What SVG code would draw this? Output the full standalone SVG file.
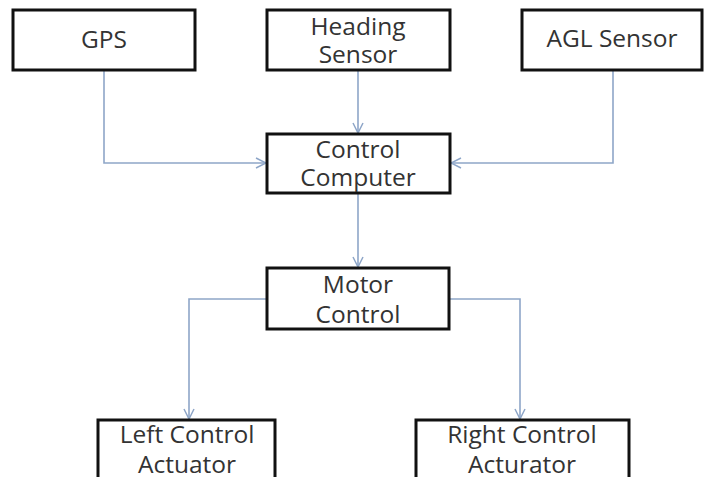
<svg xmlns="http://www.w3.org/2000/svg" width="704" height="477" viewBox="0 0 704 477">
<style>
.box{fill:#ffffff;stroke:#111111;stroke-width:3}
.t{font-family:"Open Sans","Liberation Sans",sans-serif;font-size:24.5px;fill:#333333;text-anchor:middle}
.c{fill:none;stroke:#8ea6c8;stroke-width:1.6}
</style>
<defs>
<marker id="arr" viewBox="0 0 12 12" refX="11" refY="6" markerWidth="12" markerHeight="12" markerUnits="userSpaceOnUse" orient="auto">
<path d="M1,1 L11,6 L1,11" fill="none" stroke="#8ea6c8" stroke-width="1.5"/>
</marker>
</defs>
<rect width="704" height="477" fill="#ffffff"/>
<g id="connectors">
<path class="c" d="M104,70 V163 H266" marker-end="url(#arr)"/>
<path class="c" d="M358,70 V133" marker-end="url(#arr)"/>
<path class="c" d="M613,70 V163 H451" marker-end="url(#arr)"/>
<path class="c" d="M358,193 V267" marker-end="url(#arr)"/>
<path class="c" d="M267,299 H189 V419" marker-end="url(#arr)"/>
<path class="c" d="M449,299 H520 V419" marker-end="url(#arr)"/>
</g>
<g id="gps">
<rect class="box" x="13" y="10" width="182" height="60"/>
<text class="t" x="104" y="48">GPS</text>
</g>
<g id="heading">
<rect class="box" x="267" y="10" width="183" height="60"/>
<text class="t" x="358" y="35">Heading</text>
<text class="t" x="358" y="63">Sensor</text>
</g>
<g id="agl">
<rect class="box" x="522" y="10" width="180" height="60"/>
<text class="t" x="612" y="47">AGL Sensor</text>
</g>
<g id="control-computer">
<rect class="box" x="267" y="134" width="183" height="59"/>
<text class="t" x="358" y="158">Control</text>
<text class="t" x="358" y="186">Computer</text>
</g>
<g id="motor-control">
<rect class="box" x="267" y="268" width="182" height="61"/>
<text class="t" x="358" y="293">Motor</text>
<text class="t" x="358" y="323">Control</text>
</g>
<g id="left-actuator">
<rect class="box" x="98" y="420" width="177" height="70"/>
<text class="t" x="187" y="443">Left Control</text>
<text class="t" x="187" y="473">Actuator</text>
</g>
<g id="right-actuator">
<rect class="box" x="416" y="420" width="213" height="70"/>
<text class="t" x="522" y="443">Right Control</text>
<text class="t" x="522" y="473">Acturator</text>
</g>
</svg>
